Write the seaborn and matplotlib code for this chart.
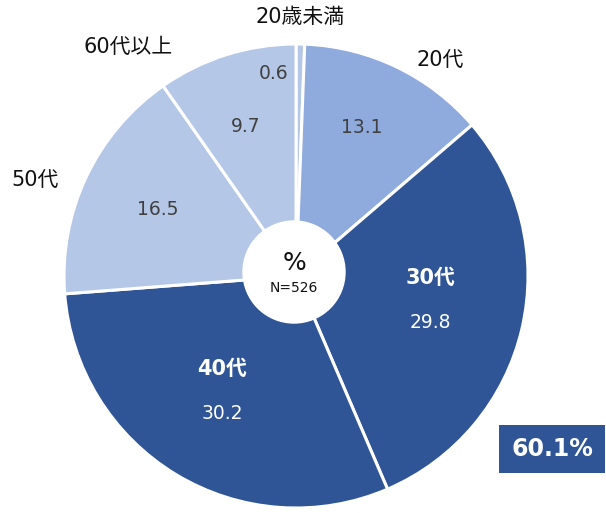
import numpy as np
import matplotlib
matplotlib.use("Agg")
import matplotlib.pyplot as plt
import seaborn as sns

sns.set_style("white")
plt.rcParams['font.family'] = ['DejaVu Sans', 'Noto Sans CJK JP']

# data
groups = ["20歳未満", "20代", "30代", "40代", "50代", "60代以上"]
shares = [0.6, 13.1, 29.8, 30.2, 16.5, 9.7]
n_total = 526
core_share = "60.1%"

dark = "#2F5597"
mid = "#8FAADC"
light = "#B4C7E7"
colors = [light, mid, dark, dark, light, light]

W, H = 606, 513
fig = plt.figure(figsize=(W / 100, H / 100), dpi=100)
ax = fig.add_axes([0, 0, 1, 1])

cx, cy, R = 296, H - 276, 232
wedges, _ = ax.pie(shares, colors=colors, startangle=90, counterclock=False,
                   center=(cx, cy), radius=R, normalize=True,
                   wedgeprops=dict(edgecolor="white", linewidth=2.2))
ax.set_xlim(0, W)
ax.set_ylim(0, H)
ax.set_aspect("equal")
ax.axis("off")

# centre hole
ax.add_patch(plt.Circle((cx - 2, cy + 4), 51, color="white", zorder=5))
ax.text(cx - 2, cy + 13, "%", ha="center", va="center", fontsize=18, color="#111111", zorder=6)
ax.text(cx - 2, cy - 12, "N=%d" % n_total, ha="center", va="center", fontsize=10, color="#111111", zorder=6)

# value labels: (radius fraction, angle shift)
val_pos = [(0.88, 7.5), (0.70, 1.8), (0.59, 2.8), (0.59, -1.5), (0.66, -0.4), (0.68, 1.1)]
bold_inside = [False, False, True, True, False, False]
for w, v, (rf, da), g, b in zip(wedges, shares, val_pos, groups, bold_inside):
    ang = np.deg2rad((w.theta1 + w.theta2) / 2 + da)
    x = cx + rf * R * np.cos(ang)
    y = cy + rf * R * np.sin(ang)
    if b:
        ax.text(x, y + 22, g, ha="center", va="center", fontsize=15, fontweight="bold", color="white")
        ax.text(x, y - 22, "%.1f" % v, ha="center", va="center", fontsize=13.5, color="white")
    else:
        ax.text(x, y, "%.1f" % v, ha="center", va="center", fontsize=13.5, color="#404040")

# outside group names (pixel positions)
name_xy = {"20歳未満": (300, 17), "20代": (440, 60), "60代以上": (128, 47), "50代": (35, 180)}
for g, (px, py) in name_xy.items():
    ax.text(px, H - py, g, ha="center", va="center", fontsize=15, color="#111111")

# 30-40代 total box
ax.text(552, H - 449, core_share, ha="center", va="center", fontsize=17, fontweight="bold",
        color="white",
        bbox=dict(boxstyle="square,pad=0.5", facecolor=dark, edgecolor="none"))

fig.savefig("out.png", dpi=100)
